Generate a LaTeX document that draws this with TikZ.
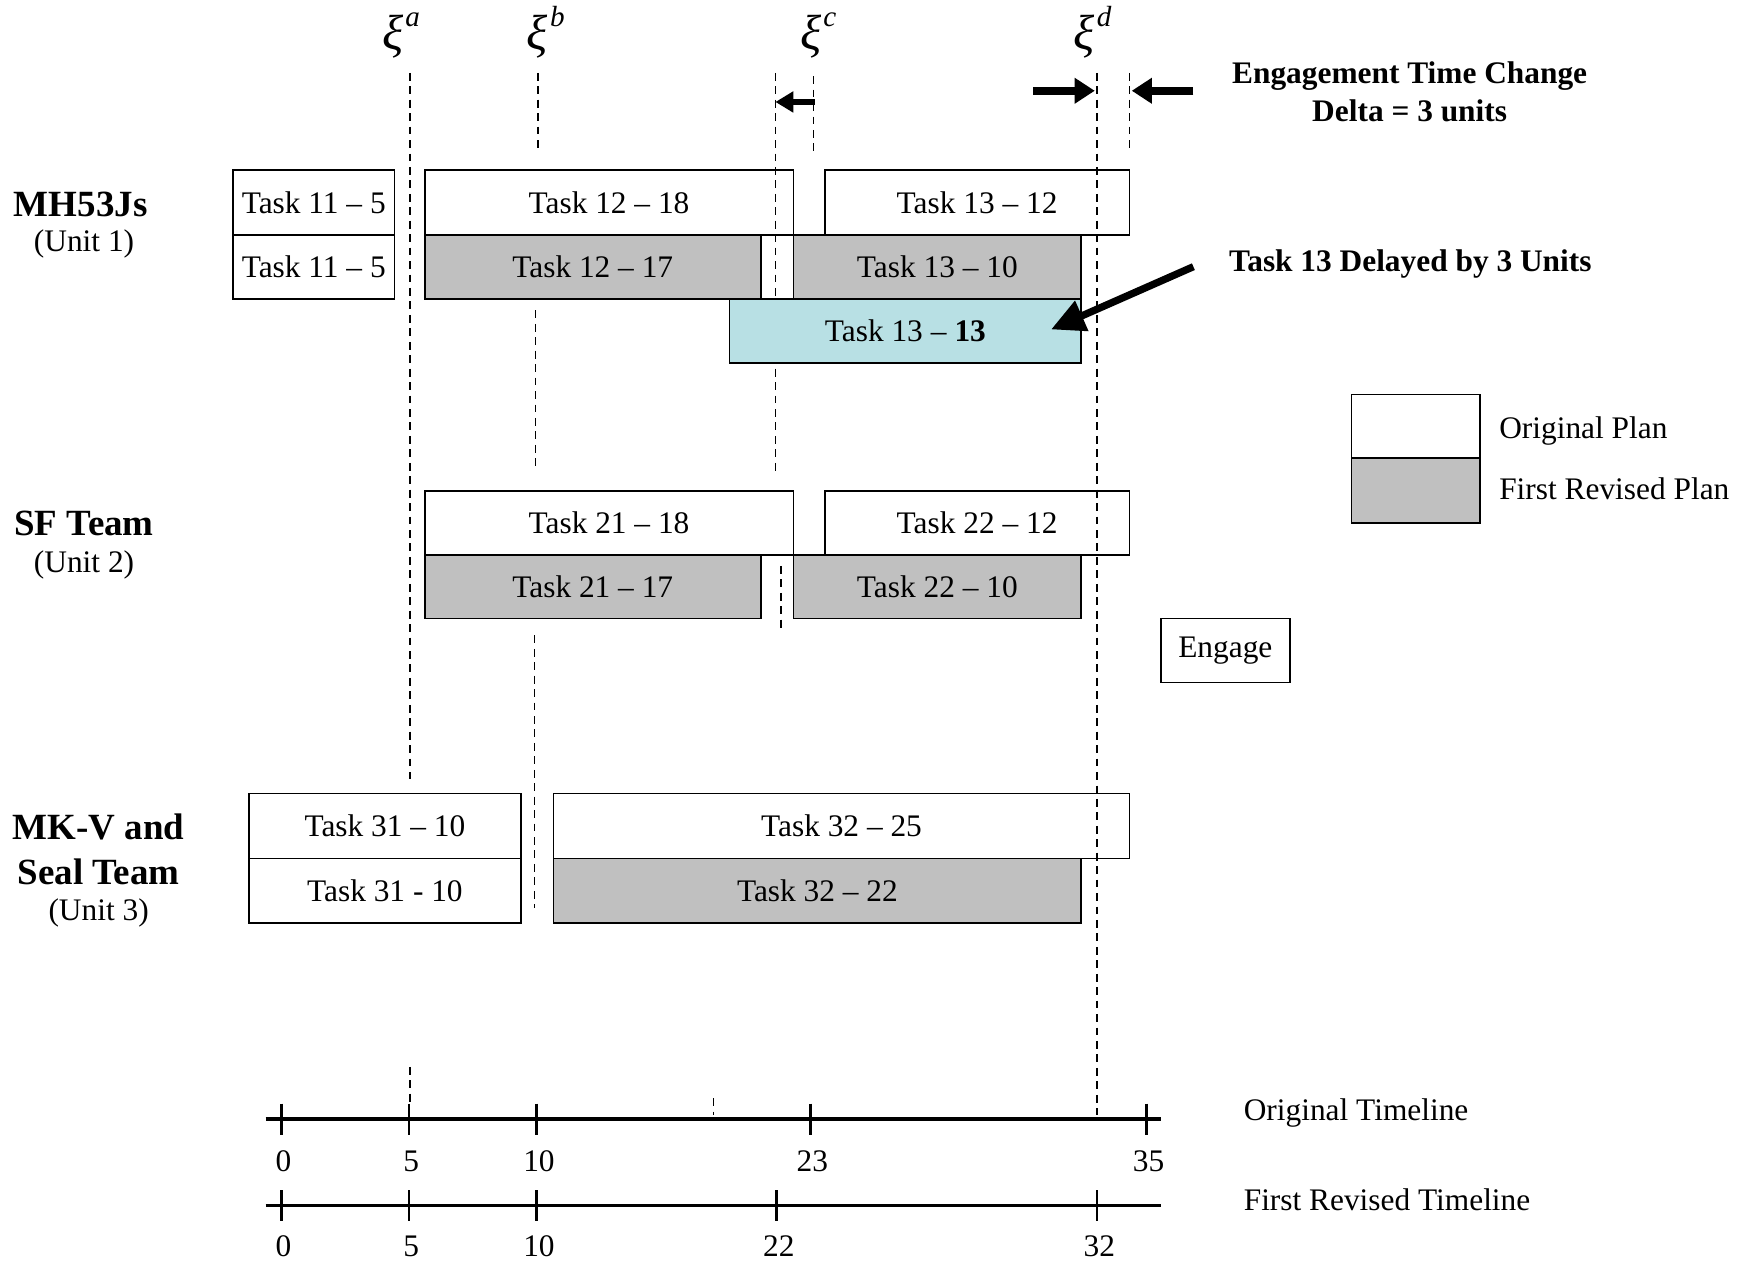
\documentclass[tikz,border=0pt]{standalone}
\usepackage{fontspec}
\setmainfont{Liberation Serif}
\usetikzlibrary{arrows.meta}
\definecolor{revgray}{RGB}{192,192,192}
\definecolor{delaycyan}{RGB}{184,224,228}
\begin{document}
\begin{tikzpicture}[x=1pt,y=-1pt,
 every node/.style={inner sep=0pt, outer sep=0pt},
 txt/.style={font=\fontsize{28}{34}\selectfont},
 boldtxt/.style={font=\fontsize{28}{34}\selectfont\bfseries, align=center},
 unitname/.style={font=\fontsize{33}{40}\selectfont\bfseries, align=center},
 taskbox/.style={draw=black, line width=1.5pt, anchor=north west, align=center, font=\fontsize{28}{34}\selectfont},
 revbox/.style={taskbox, fill=revgray},
 delaybox/.style={taskbox, fill=delaycyan},
 guide/.style={black, line width=1.2pt, dash pattern=on 7pt off 5pt},
 axis/.style={black, line width=3.5pt},
 tickmark/.style={black, line width=2.5pt},
 bigarrow/.style={line width=7pt, -{Triangle[length=18pt,width=22pt]}},
 smallarrow/.style={line width=6pt, -{Triangle[length=16pt,width=18pt]}},
 xilbl/.style={anchor=base west, font=\fontsize{44}{44}\selectfont\itshape},
]
\useasboundingbox (0,0) rectangle (1568,1127);

% ---------- xi labels ----------
\newcommand{\xisup}[1]{ξ\kern2pt\raisebox{20pt}{\fontsize{26}{26}\selectfont #1}}
\node[xilbl] (xia) at (341,44) {\xisup{a}};
\node[xilbl] (xib) at (470,44) {\xisup{b}};
\node[xilbl] (xic) at (714,44) {\xisup{c}};
\node[xilbl] (xid) at (958,44) {\xisup{d}};

% ---------- dashed guide lines ----------
\coordinate (ga1) at (366,65);  \coordinate (ga2) at (366,695);
\coordinate (ga3) at (366,952); \coordinate (ga4) at (366,985);
\coordinate (gb1) at (480,65);  \coordinate (gb2) at (480,135);
\coordinate (gb3) at (478,277); \coordinate (gb4) at (478,420);
\coordinate (gb5) at (477,567); \coordinate (gb6) at (477,810);
\coordinate (gc1) at (692,65);  \coordinate (gc2) at (692,420);
\coordinate (gc3) at (726,68);  \coordinate (gc4) at (726,137);
\coordinate (gc5) at (697,505); \coordinate (gc6) at (697,563);
\coordinate (gc7) at (637,980); \coordinate (gc8) at (637,995);
\coordinate (gd1) at (979,65);  \coordinate (gd2) at (979,995);
\coordinate (ge1) at (1008,65); \coordinate (ge2) at (1008,135);
\draw[guide] (ga1) -- (ga2);
\draw[guide] (ga3) -- (ga4);
\draw[guide] (gb1) -- (gb2);
\draw[guide] (gb3) -- (gb4);
\draw[guide] (gb5) -- (gb6);
\draw[guide] (gc1) -- (gc2);
\draw[guide] (gc3) -- (gc4);
\draw[guide] (gc5) -- (gc6);
\draw[guide] (gc7) -- (gc8);
\draw[guide] (gd1) -- (gd2);
\draw[guide] (ge1) -- (ge2);

% ---------- annotation text ----------
\node[boldtxt] (engtxt) at (1258,82) {Engagement Time Change\\Delta = 3 units};
\node[boldtxt, anchor=west] (delaytxt) at (1097,236) {Task 13 Delayed by 3 Units};

% ---------- unit labels ----------
\node[unitname] (u1) at (72,182) {MH53Js};
\node[txt] (u1b) at (75,218) {(Unit 1)};
\node[unitname] (u2) at (75,467) {SF Team};
\node[txt] (u2b) at (75,504) {(Unit 2)};
\node[unitname] (u3) at (88,738) {MK-V and};
\node[unitname] (u3a) at (88,778) {Seal Team};
\node[txt] (u3b) at (88,815) {(Unit 3)};

% ---------- task boxes: Unit 1 ----------
\node[taskbox, minimum width=144pt, minimum height=58pt] (t11o) at (208,152) {Task 11 – 5};
\node[taskbox, minimum width=144pt, minimum height=57pt] (t11r) at (208,210) {Task 11 – 5};
\node[taskbox, minimum width=329pt, minimum height=58pt] (t12o) at (379,152) {Task 12 – 18};
\node[revbox,  minimum width=300pt, minimum height=57pt] (t12r) at (379,210) {Task 12 – 17};
\node[taskbox, minimum width=272pt, minimum height=58pt] (t13o) at (736,152) {Task 13 – 12};
\node[revbox,  minimum width=257pt, minimum height=57pt] (t13r) at (708,210) {Task 13 – 10};
\node[delaybox, minimum width=314pt, minimum height=57pt] (t13d) at (651,267) {Task 13 – \textbf{13}};

% ---------- task boxes: Unit 2 ----------
\node[taskbox, minimum width=329pt, minimum height=57pt] (t21o) at (379,438) {Task 21 – 18};
\node[revbox,  minimum width=300pt, minimum height=57pt] (t21r) at (379,495) {Task 21 – 17};
\node[taskbox, minimum width=272pt, minimum height=57pt] (t22o) at (736,438) {Task 22 – 12};
\node[revbox,  minimum width=257pt, minimum height=57pt] (t22r) at (708,495) {Task 22 – 10};

% ---------- task boxes: Unit 3 ----------
\node[taskbox, minimum width=243pt, minimum height=58pt] (t31o) at (222,708) {Task 31 – 10};
\node[taskbox, minimum width=243pt, minimum height=58pt] (t31r) at (222,766) {Task 31 - 10};
\node[taskbox, minimum width=514pt, minimum height=58pt] (t32o) at (494,708) {Task 32 – 25};
\node[revbox,  minimum width=471pt, minimum height=58pt] (t32r) at (494,766) {Task 32 – 22};

% ---------- arrows (on top of boxes) ----------
\coordinate (ac1) at (727,91);  \coordinate (ac2) at (692,91);
\coordinate (ar1) at (922,81);  \coordinate (ar2) at (977,81);
\coordinate (al1) at (1065,81); \coordinate (al2) at (1010,81);
\coordinate (ad1) at (1065,238);\coordinate (ad2) at (938,294);
\draw[smallarrow] (ac1) -- (ac2);
\draw[bigarrow] (ar1) -- (ar2);
\draw[bigarrow] (al1) -- (al2);
\draw[line width=6.5pt, -{Triangle[length=30pt,width=28pt]}] (ad1) -- (ad2);

% ---------- legend ----------
\node[taskbox, minimum width=115pt, minimum height=57pt] (lego) at (1206,352) {};
\node[revbox,  minimum width=115pt, minimum height=58pt] (legr) at (1206,409) {};
\node[txt, anchor=west] (legot) at (1338,385) {Original Plan};
\node[txt, anchor=west] (legrt) at (1338,436) {First Revised Plan};
\node[taskbox, minimum width=115pt, minimum height=57pt] (engage) at (1036,552) {Engage};

% ---------- timelines ----------
\coordinate (os) at (237,999);  \coordinate (oe) at (1036,999);
\coordinate (rs) at (237,1076); \coordinate (re) at (1036,1076);
\draw[axis] (os) -- (oe);
\draw[axis, line width=3pt] (rs) -- (re);
\foreach \x/\lab in {251/0,365/5,479/10,723/23,1023/35}{
  \draw[tickmark] (\x,985) -- (\x,1013);
  \node[txt] (o\lab) at (\x+2,1036) {\lab};
}
\foreach \x/\lab in {251/0,365/5,479/10,693/22,979/32}{
  \draw[tickmark] (\x,1062) -- (\x,1090);
  \node[txt] (r\lab) at (\x+2,1112) {\lab};
}
\node[txt, anchor=west] (otl) at (1110,993) {Original Timeline};
\node[txt, anchor=west] (rtl) at (1110,1071) {First Revised Timeline};
\end{tikzpicture}
\end{document}
